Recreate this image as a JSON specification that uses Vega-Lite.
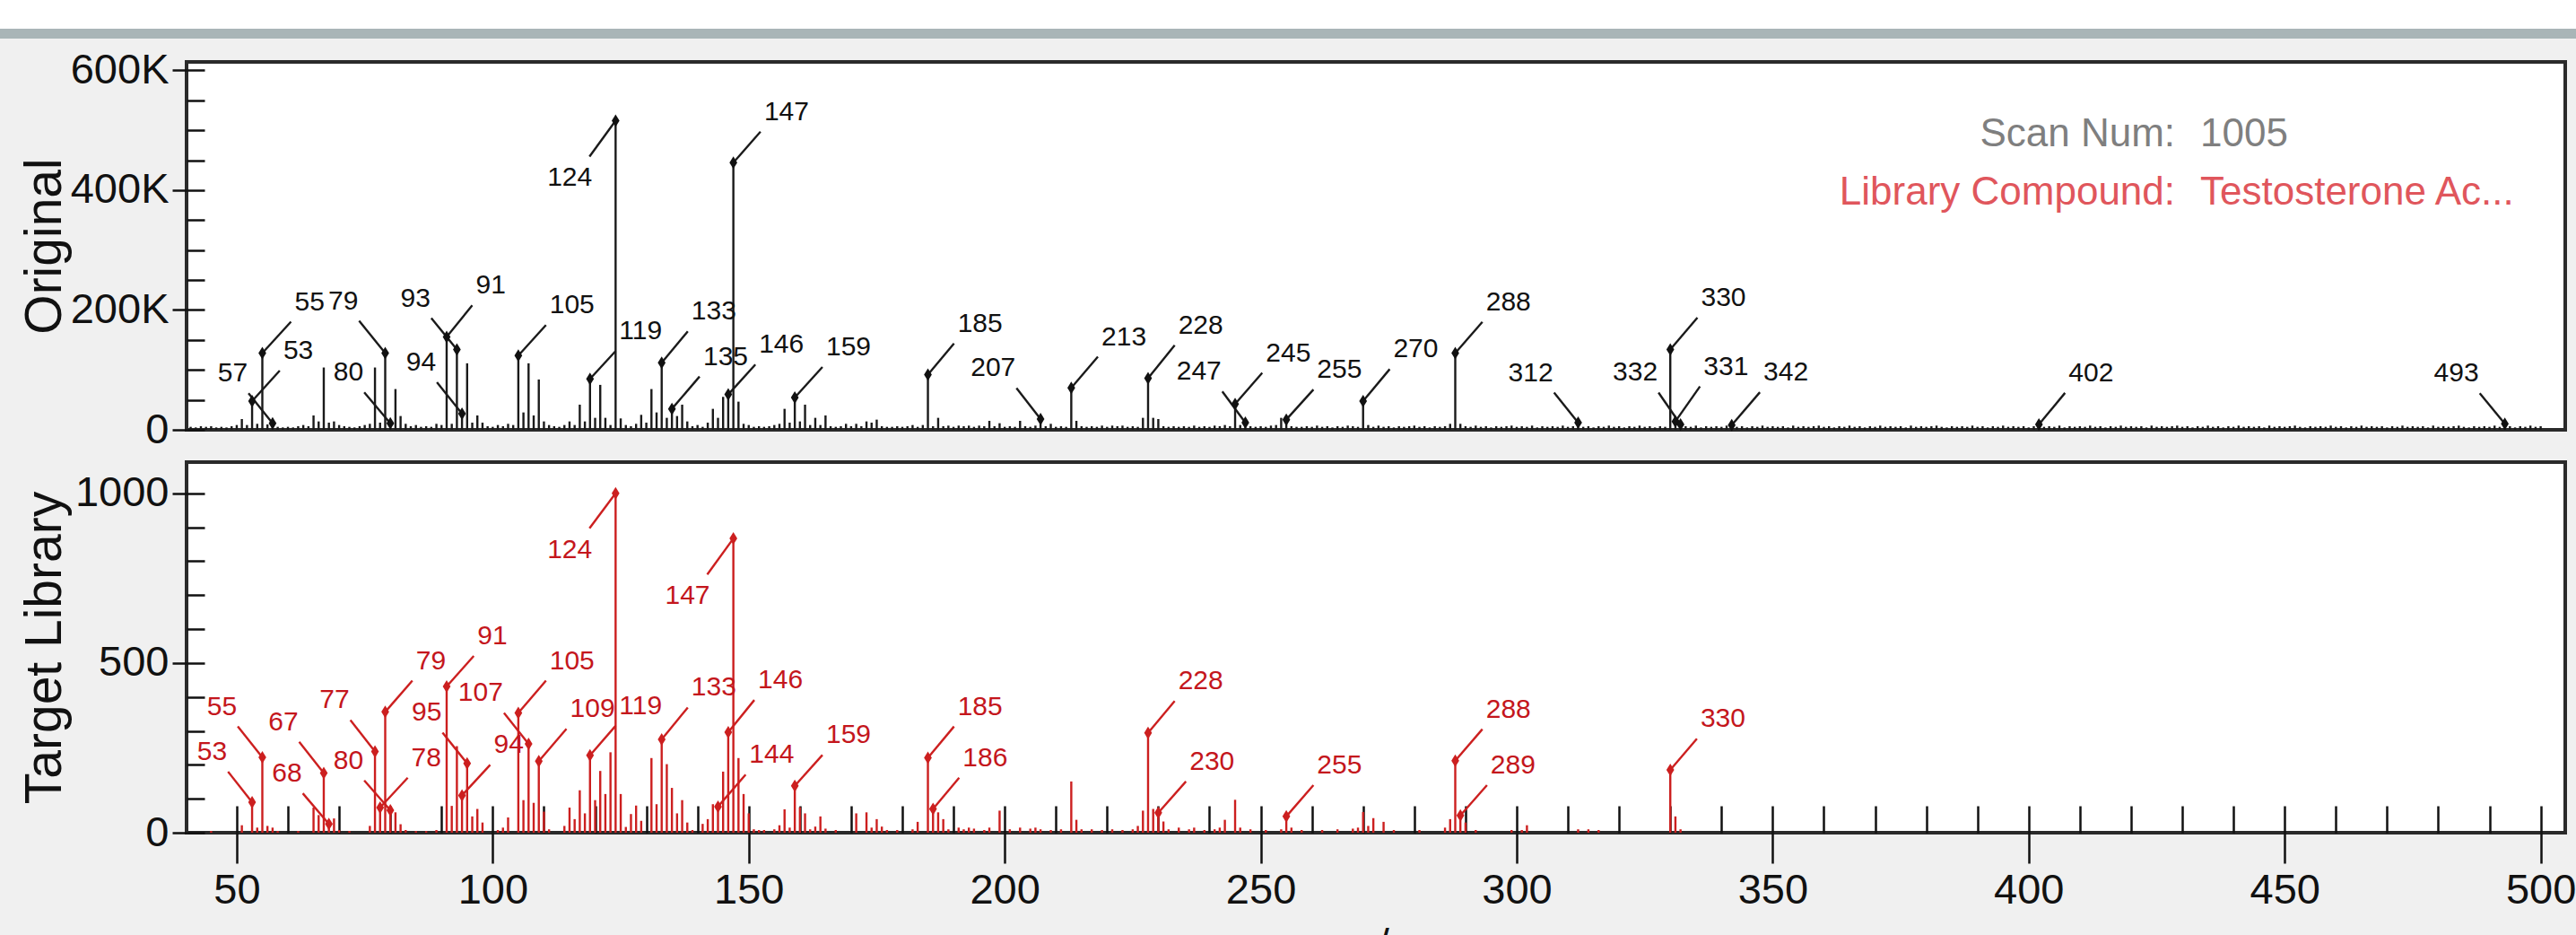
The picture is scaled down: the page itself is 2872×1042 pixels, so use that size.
{
"$schema": "https://vega.github.io/schema/vega-lite/v6.json",
"background": "#f0f0f0",
"padding": 0,
"config": {"view": {"stroke": null}, "axis": {"grid": false}},
"datasets": {
"top": [
{"mz":41,"I":5},{"mz":42,"I":4},{"mz":43,"I":6},{"mz":44,"I":5},{"mz":45,"I":6},{"mz":46,"I":4},{"mz":47,"I":5},{"mz":48,"I":4},{"mz":49,"I":6},{"mz":50,"I":8},
{"mz":51,"I":18},{"mz":52,"I":8},{"mz":53,"I":48},{"mz":54,"I":10},{"mz":55,"I":128},{"mz":56,"I":9},{"mz":57,"I":11},{"mz":58,"I":5},{"mz":59,"I":4},{"mz":60,"I":5},
{"mz":61,"I":4},{"mz":62,"I":6},{"mz":63,"I":8},{"mz":64,"I":6},{"mz":65,"I":24},{"mz":66,"I":14},{"mz":67,"I":104},{"mz":68,"I":12},{"mz":69,"I":14},{"mz":70,"I":8},
{"mz":71,"I":6},{"mz":72,"I":5},{"mz":73,"I":4},{"mz":74,"I":6},{"mz":75,"I":8},{"mz":76,"I":10},{"mz":77,"I":104},{"mz":78,"I":12},{"mz":79,"I":128},{"mz":80,"I":11},
{"mz":81,"I":68},{"mz":82,"I":23},{"mz":83,"I":10},{"mz":84,"I":6},{"mz":85,"I":8},{"mz":86,"I":5},{"mz":87,"I":6},{"mz":88,"I":5},{"mz":89,"I":10},{"mz":90,"I":8},
{"mz":91,"I":155},{"mz":92,"I":10},{"mz":93,"I":134},{"mz":94,"I":27},{"mz":95,"I":111},{"mz":96,"I":12},{"mz":97,"I":24},{"mz":98,"I":12},{"mz":99,"I":6},{"mz":100,"I":5},
{"mz":101,"I":8},{"mz":102,"I":6},{"mz":103,"I":10},{"mz":104,"I":8},{"mz":105,"I":124},{"mz":106,"I":29},{"mz":107,"I":111},{"mz":108,"I":24},{"mz":109,"I":84},{"mz":110,"I":14},
{"mz":111,"I":8},{"mz":112,"I":6},{"mz":113,"I":5},{"mz":114,"I":8},{"mz":115,"I":14},{"mz":116,"I":8},{"mz":117,"I":42},{"mz":118,"I":14},{"mz":119,"I":85},{"mz":120,"I":20},
{"mz":121,"I":75},{"mz":122,"I":20},{"mz":123,"I":8},{"mz":124,"I":516},{"mz":125,"I":19},{"mz":126,"I":8},{"mz":127,"I":6},{"mz":128,"I":10},{"mz":129,"I":25},{"mz":130,"I":12},
{"mz":131,"I":68},{"mz":132,"I":29},{"mz":133,"I":112},{"mz":134,"I":20},{"mz":135,"I":35},{"mz":136,"I":23},{"mz":137,"I":42},{"mz":138,"I":14},{"mz":139,"I":6},{"mz":140,"I":8},
{"mz":141,"I":5},{"mz":142,"I":12},{"mz":143,"I":35},{"mz":144,"I":20},{"mz":145,"I":55},{"mz":146,"I":59},{"mz":147,"I":446},{"mz":148,"I":47},{"mz":149,"I":10},{"mz":150,"I":8},
{"mz":151,"I":5},{"mz":152,"I":6},{"mz":153,"I":5},{"mz":154,"I":6},{"mz":155,"I":8},{"mz":156,"I":10},{"mz":157,"I":35},{"mz":158,"I":12},{"mz":159,"I":54},{"mz":160,"I":14},
{"mz":161,"I":42},{"mz":162,"I":8},{"mz":163,"I":20},{"mz":164,"I":8},{"mz":165,"I":24},{"mz":166,"I":6},{"mz":167,"I":5},{"mz":168,"I":6},{"mz":169,"I":10},{"mz":170,"I":6},
{"mz":171,"I":10},{"mz":172,"I":6},{"mz":173,"I":14},{"mz":174,"I":12},{"mz":175,"I":17},{"mz":176,"I":6},{"mz":177,"I":5},{"mz":178,"I":5},{"mz":179,"I":6},{"mz":180,"I":5},
{"mz":181,"I":6},{"mz":182,"I":8},{"mz":183,"I":5},{"mz":184,"I":8},{"mz":185,"I":92},{"mz":186,"I":6},{"mz":187,"I":20},{"mz":188,"I":6},{"mz":189,"I":7},{"mz":190,"I":5},
{"mz":191,"I":7},{"mz":192,"I":6},{"mz":193,"I":7},{"mz":194,"I":5},{"mz":195,"I":7},{"mz":196,"I":6},{"mz":197,"I":15},{"mz":198,"I":6},{"mz":199,"I":11},{"mz":200,"I":5},
{"mz":201,"I":6},{"mz":202,"I":5},{"mz":203,"I":15},{"mz":204,"I":6},{"mz":205,"I":5},{"mz":206,"I":7},{"mz":207,"I":18},{"mz":208,"I":6},{"mz":209,"I":10},{"mz":210,"I":5},
{"mz":211,"I":6},{"mz":212,"I":5},{"mz":213,"I":70},{"mz":214,"I":15},{"mz":215,"I":6},{"mz":216,"I":5},{"mz":217,"I":6},{"mz":218,"I":5},{"mz":219,"I":7},{"mz":220,"I":5},
{"mz":221,"I":7},{"mz":222,"I":6},{"mz":223,"I":7},{"mz":224,"I":5},{"mz":225,"I":6},{"mz":226,"I":5},{"mz":227,"I":20},{"mz":228,"I":86},{"mz":229,"I":20},{"mz":230,"I":18},
{"mz":231,"I":6},{"mz":232,"I":5},{"mz":233,"I":6},{"mz":234,"I":5},{"mz":235,"I":6},{"mz":236,"I":5},{"mz":237,"I":7},{"mz":238,"I":5},{"mz":239,"I":6},{"mz":240,"I":5},
{"mz":241,"I":7},{"mz":242,"I":6},{"mz":243,"I":8},{"mz":244,"I":6},{"mz":245,"I":43},{"mz":246,"I":8},{"mz":247,"I":12},{"mz":248,"I":6},{"mz":249,"I":5},{"mz":250,"I":6},
{"mz":251,"I":5},{"mz":252,"I":7},{"mz":253,"I":8},{"mz":254,"I":20},{"mz":255,"I":17},{"mz":256,"I":6},{"mz":257,"I":5},{"mz":258,"I":5},{"mz":259,"I":6},{"mz":260,"I":5},
{"mz":261,"I":7},{"mz":262,"I":5},{"mz":263,"I":6},{"mz":264,"I":4},{"mz":265,"I":6},{"mz":266,"I":5},{"mz":267,"I":7},{"mz":268,"I":6},{"mz":269,"I":5},{"mz":270,"I":48},
{"mz":271,"I":8},{"mz":272,"I":5},{"mz":273,"I":7},{"mz":274,"I":5},{"mz":275,"I":6},{"mz":276,"I":4},{"mz":277,"I":6},{"mz":278,"I":5},{"mz":279,"I":6},{"mz":280,"I":7},
{"mz":281,"I":5},{"mz":282,"I":6},{"mz":283,"I":4},{"mz":284,"I":6},{"mz":285,"I":5},{"mz":286,"I":6},{"mz":287,"I":10},{"mz":288,"I":128},{"mz":289,"I":10},{"mz":290,"I":6},
{"mz":291,"I":5},{"mz":292,"I":7},{"mz":293,"I":5},{"mz":294,"I":6},{"mz":295,"I":4},{"mz":296,"I":6},{"mz":297,"I":5},{"mz":298,"I":6},{"mz":299,"I":7},{"mz":300,"I":5},
{"mz":301,"I":6},{"mz":302,"I":5},{"mz":303,"I":7},{"mz":304,"I":4},{"mz":305,"I":6},{"mz":306,"I":5},{"mz":307,"I":6},{"mz":308,"I":5},{"mz":309,"I":7},{"mz":310,"I":5},
{"mz":311,"I":6},{"mz":312,"I":12},{"mz":313,"I":5},{"mz":314,"I":6},{"mz":315,"I":4},{"mz":316,"I":6},{"mz":317,"I":5},{"mz":318,"I":7},{"mz":319,"I":5},{"mz":320,"I":6},
{"mz":321,"I":4},{"mz":322,"I":6},{"mz":323,"I":5},{"mz":324,"I":7},{"mz":325,"I":5},{"mz":326,"I":6},{"mz":327,"I":4},{"mz":328,"I":6},{"mz":329,"I":5},{"mz":330,"I":134},
{"mz":331,"I":14},{"mz":332,"I":9},{"mz":333,"I":6},{"mz":334,"I":5},{"mz":335,"I":7},{"mz":336,"I":4},{"mz":337,"I":6},{"mz":338,"I":5},{"mz":339,"I":6},{"mz":340,"I":5},
{"mz":341,"I":7},{"mz":342,"I":8},{"mz":343,"I":5},{"mz":344,"I":6},{"mz":345,"I":4},{"mz":346,"I":6},{"mz":347,"I":5},{"mz":348,"I":7},{"mz":349,"I":5},{"mz":350,"I":6},
{"mz":351,"I":5},{"mz":352,"I":6},{"mz":353,"I":4},{"mz":354,"I":7},{"mz":355,"I":5},{"mz":356,"I":6},{"mz":357,"I":5},{"mz":358,"I":6},{"mz":359,"I":7},{"mz":360,"I":5},
{"mz":361,"I":6},{"mz":362,"I":4},{"mz":363,"I":6},{"mz":364,"I":5},{"mz":365,"I":7},{"mz":366,"I":5},{"mz":367,"I":6},{"mz":368,"I":4},{"mz":369,"I":6},{"mz":370,"I":5},
{"mz":371,"I":7},{"mz":372,"I":5},{"mz":373,"I":6},{"mz":374,"I":5},{"mz":375,"I":6},{"mz":376,"I":4},{"mz":377,"I":7},{"mz":378,"I":5},{"mz":379,"I":6},{"mz":380,"I":5},
{"mz":381,"I":6},{"mz":382,"I":7},{"mz":383,"I":5},{"mz":384,"I":4},{"mz":385,"I":6},{"mz":386,"I":5},{"mz":387,"I":6},{"mz":388,"I":5},{"mz":389,"I":7},{"mz":390,"I":5},
{"mz":391,"I":6},{"mz":392,"I":4},{"mz":393,"I":6},{"mz":394,"I":5},{"mz":395,"I":7},{"mz":396,"I":5},{"mz":397,"I":6},{"mz":398,"I":5},{"mz":399,"I":6},{"mz":400,"I":4},
{"mz":401,"I":6},{"mz":402,"I":9},{"mz":403,"I":5},{"mz":404,"I":6},{"mz":405,"I":5},{"mz":406,"I":7},{"mz":407,"I":4},{"mz":408,"I":6},{"mz":409,"I":5},{"mz":410,"I":6},
{"mz":411,"I":5},{"mz":412,"I":7},{"mz":413,"I":5},{"mz":414,"I":6},{"mz":415,"I":4},{"mz":416,"I":6},{"mz":417,"I":5},{"mz":418,"I":7},{"mz":419,"I":5},{"mz":420,"I":6},
{"mz":421,"I":5},{"mz":422,"I":6},{"mz":423,"I":4},{"mz":424,"I":7},{"mz":425,"I":5},{"mz":426,"I":6},{"mz":427,"I":5},{"mz":428,"I":6},{"mz":429,"I":7},{"mz":430,"I":5},
{"mz":431,"I":6},{"mz":432,"I":4},{"mz":433,"I":6},{"mz":434,"I":5},{"mz":435,"I":7},{"mz":436,"I":5},{"mz":437,"I":6},{"mz":438,"I":4},{"mz":439,"I":6},{"mz":440,"I":5},
{"mz":441,"I":7},{"mz":442,"I":5},{"mz":443,"I":6},{"mz":444,"I":5},{"mz":445,"I":6},{"mz":446,"I":4},{"mz":447,"I":7},{"mz":448,"I":5},{"mz":449,"I":6},{"mz":450,"I":5},
{"mz":451,"I":6},{"mz":452,"I":7},{"mz":453,"I":5},{"mz":454,"I":4},{"mz":455,"I":6},{"mz":456,"I":5},{"mz":457,"I":6},{"mz":458,"I":5},{"mz":459,"I":7},{"mz":460,"I":5},
{"mz":461,"I":6},{"mz":462,"I":4},{"mz":463,"I":6},{"mz":464,"I":5},{"mz":465,"I":7},{"mz":466,"I":5},{"mz":467,"I":6},{"mz":468,"I":5},{"mz":469,"I":6},{"mz":470,"I":4},
{"mz":471,"I":6},{"mz":472,"I":5},{"mz":473,"I":7},{"mz":474,"I":5},{"mz":475,"I":6},{"mz":476,"I":5},{"mz":477,"I":6},{"mz":478,"I":4},{"mz":479,"I":7},{"mz":480,"I":5},
{"mz":481,"I":6},{"mz":482,"I":5},{"mz":483,"I":6},{"mz":484,"I":7},{"mz":485,"I":5},{"mz":486,"I":4},{"mz":487,"I":6},{"mz":488,"I":5},{"mz":489,"I":6},{"mz":490,"I":5},
{"mz":491,"I":7},{"mz":492,"I":5},{"mz":493,"I":10},{"mz":494,"I":6},{"mz":495,"I":4},{"mz":496,"I":6},{"mz":497,"I":5},{"mz":498,"I":7},{"mz":499,"I":5},{"mz":500,"I":6}
],
"topLab": [
{"mz":53,"I":48,"lx":58.4,"ly":98.9},{"mz":55,"I":128,"lx":60.6,"ly":180.4},{"mz":57,"I":11,"lx":52.3,"ly":61},
{"mz":79,"I":128,"lx":73.9,"ly":181.9},{"mz":80,"I":11,"lx":74.9,"ly":62.5},{"mz":91,"I":155,"lx":96,"ly":207.9},
{"mz":93,"I":134,"lx":88,"ly":186.4},{"mz":94,"I":27,"lx":89.1,"ly":79.4},{"mz":105,"I":124,"lx":110.4,"ly":174.9},
{"mz":119,"I":85,"lx":124,"ly":131.4},{"mz":124,"I":516,"lx":118.9,"ly":456.1},{"mz":133,"I":112,"lx":138.1,"ly":164.4},
{"mz":135,"I":35,"lx":140.4,"ly":88.9},{"mz":146,"I":59,"lx":151.3,"ly":108.9},{"mz":147,"I":446,"lx":152.3,"ly":497.5},
{"mz":159,"I":54,"lx":164.4,"ly":104.9},{"mz":185,"I":92,"lx":190.1,"ly":144},{"mz":207,"I":18,"lx":202.3,"ly":69.8},
{"mz":213,"I":70,"lx":218.2,"ly":122},{"mz":228,"I":86,"lx":233.2,"ly":141},{"mz":245,"I":43,"lx":250.3,"ly":95},
{"mz":247,"I":12,"lx":242.5,"ly":64},{"mz":255,"I":17,"lx":260.3,"ly":67.2},{"mz":270,"I":48,"lx":275.2,"ly":101.3},
{"mz":288,"I":128,"lx":293.3,"ly":180},{"mz":312,"I":12,"lx":307.3,"ly":62},{"mz":330,"I":134,"lx":335.3,"ly":187.3},
{"mz":331,"I":14,"lx":335.8,"ly":72.4},{"mz":332,"I":9,"lx":327.7,"ly":62.2},{"mz":342,"I":8,"lx":347.5,"ly":62.7},
{"mz":402,"I":9,"lx":407.1,"ly":61.6},{"mz":493,"I":10,"lx":488.1,"ly":61.1}
],
"bot": [
{"mz":45,"I":5},{"mz":51,"I":22},{"mz":53,"I":90},{"mz":54,"I":15},{"mz":55,"I":222},{"mz":56,"I":20},{"mz":57,"I":15},{"mz":58,"I":5},{"mz":62,"I":5},{"mz":65,"I":74},
{"mz":66,"I":52},{"mz":67,"I":176},{"mz":68,"I":26},{"mz":69,"I":42},{"mz":70,"I":8},{"mz":72,"I":5},{"mz":76,"I":20},{"mz":77,"I":239},{"mz":78,"I":74},{"mz":79,"I":356},
{"mz":80,"I":66},{"mz":81,"I":60},{"mz":82,"I":25},{"mz":83,"I":8},{"mz":85,"I":5},{"mz":87,"I":5},{"mz":89,"I":8},{"mz":91,"I":431},{"mz":92,"I":79},{"mz":93,"I":255},
{"mz":94,"I":110},{"mz":95,"I":204},{"mz":96,"I":48},{"mz":97,"I":70},{"mz":98,"I":30},{"mz":101,"I":8},{"mz":102,"I":15},{"mz":103,"I":45},{"mz":105,"I":353},{"mz":106,"I":96},
{"mz":107,"I":262},{"mz":108,"I":88},{"mz":109,"I":211},{"mz":110,"I":62},{"mz":111,"I":10},{"mz":114,"I":20},{"mz":115,"I":74},{"mz":116,"I":40},{"mz":117,"I":125},{"mz":118,"I":57},
{"mz":119,"I":228},{"mz":120,"I":96},{"mz":121,"I":182},{"mz":122,"I":114},{"mz":123,"I":237},{"mz":124,"I":1000},{"mz":125,"I":114},{"mz":126,"I":17},{"mz":127,"I":55},{"mz":128,"I":80},
{"mz":129,"I":35},{"mz":131,"I":220},{"mz":132,"I":84},{"mz":133,"I":275},{"mz":134,"I":202},{"mz":135,"I":132},{"mz":136,"I":57},{"mz":137,"I":96},{"mz":138,"I":30},{"mz":139,"I":8},
{"mz":141,"I":26},{"mz":142,"I":40},{"mz":143,"I":84},{"mz":144,"I":77},{"mz":145,"I":180},{"mz":146,"I":296},{"mz":147,"I":867},{"mz":148,"I":220},{"mz":149,"I":114},{"mz":150,"I":57},
{"mz":151,"I":10},{"mz":152,"I":8},{"mz":153,"I":8},{"mz":155,"I":10},{"mz":156,"I":22},{"mz":157,"I":69},{"mz":158,"I":15},{"mz":159,"I":138},{"mz":160,"I":75},{"mz":161,"I":57},
{"mz":162,"I":10},{"mz":163,"I":18},{"mz":164,"I":48},{"mz":165,"I":12},{"mz":167,"I":8},{"mz":171,"I":57},{"mz":173,"I":60},{"mz":174,"I":15},{"mz":175,"I":40},{"mz":176,"I":18},
{"mz":177,"I":8},{"mz":179,"I":8},{"mz":182,"I":10},{"mz":183,"I":32},{"mz":185,"I":221},{"mz":186,"I":70},{"mz":187,"I":60},{"mz":188,"I":40},{"mz":189,"I":10},{"mz":191,"I":15},
{"mz":192,"I":10},{"mz":193,"I":15},{"mz":194,"I":12},{"mz":196,"I":8},{"mz":197,"I":15},{"mz":199,"I":65},{"mz":201,"I":10},{"mz":203,"I":15},{"mz":205,"I":12},{"mz":206,"I":15},
{"mz":207,"I":10},{"mz":209,"I":8},{"mz":211,"I":10},{"mz":213,"I":151},{"mz":214,"I":38},{"mz":215,"I":10},{"mz":217,"I":10},{"mz":219,"I":8},{"mz":221,"I":10},{"mz":223,"I":8},
{"mz":225,"I":10},{"mz":226,"I":20},{"mz":227,"I":65},{"mz":228,"I":294},{"mz":229,"I":70},{"mz":230,"I":59},{"mz":231,"I":33},{"mz":232,"I":10},{"mz":234,"I":15},{"mz":236,"I":10},
{"mz":237,"I":15},{"mz":239,"I":8},{"mz":241,"I":10},{"mz":242,"I":15},{"mz":243,"I":38},{"mz":245,"I":97},{"mz":246,"I":15},{"mz":248,"I":10},{"mz":251,"I":8},{"mz":254,"I":10},
{"mz":255,"I":48},{"mz":256,"I":15},{"mz":258,"I":8},{"mz":262,"I":8},{"mz":265,"I":10},{"mz":268,"I":12},{"mz":269,"I":15},{"mz":270,"I":61},{"mz":271,"I":20},{"mz":272,"I":43},
{"mz":274,"I":32},{"mz":276,"I":8},{"mz":281,"I":8},{"mz":286,"I":15},{"mz":287,"I":40},{"mz":288,"I":212},{"mz":289,"I":51},{"mz":290,"I":30},{"mz":292,"I":8},{"mz":299,"I":8},
{"mz":301,"I":8},{"mz":302,"I":22},{"mz":312,"I":10},{"mz":314,"I":10},{"mz":316,"I":8},{"mz":330,"I":185},{"mz":331,"I":48},{"mz":332,"I":10}
],
"botLab": [
{"mz":53,"I":90,"lx":48.3,"ly":180},{"mz":55,"I":222,"lx":50.2,"ly":313},{"mz":67,"I":176,"lx":62.2,"ly":268},
{"mz":68,"I":26,"lx":62.9,"ly":116},{"mz":77,"I":239,"lx":72.2,"ly":332},{"mz":78,"I":74,"lx":83.4,"ly":162},
{"mz":79,"I":356,"lx":84.3,"ly":448},{"mz":80,"I":66,"lx":74.9,"ly":154},{"mz":91,"I":431,"lx":96.3,"ly":521},
{"mz":94,"I":110,"lx":99.5,"ly":200},{"mz":95,"I":204,"lx":90.2,"ly":295},{"mz":105,"I":353,"lx":110.4,"ly":448},
{"mz":107,"I":262,"lx":102.2,"ly":353},{"mz":109,"I":211,"lx":114.4,"ly":306},{"mz":119,"I":228,"lx":124,"ly":315},
{"mz":124,"I":1000,"lx":118.9,"ly":897},{"mz":133,"I":275,"lx":138.1,"ly":369},{"mz":144,"I":77,"lx":149.4,"ly":171},
{"mz":146,"I":296,"lx":151.1,"ly":391},{"mz":147,"I":867,"lx":141.9,"ly":761},{"mz":159,"I":138,"lx":164.4,"ly":229},
{"mz":185,"I":221,"lx":190.1,"ly":313},{"mz":186,"I":70,"lx":191.1,"ly":162},{"mz":228,"I":294,"lx":233.2,"ly":388},
{"mz":230,"I":59,"lx":235.4,"ly":151},{"mz":255,"I":48,"lx":260.3,"ly":140},{"mz":288,"I":212,"lx":293.3,"ly":305},
{"mz":289,"I":51,"lx":294.2,"ly":140},{"mz":330,"I":185,"lx":335.2,"ly":277}
],
"info": [
{"key":"Scan Num:","val":"1005","I":472.5},
{"key":"Library Compound:","val":"Testosterone Ac...","I":375.2}
]
},
"concat": [
{
"vconcat": [
{"width": 2872, "height": 32, "data": {"values": [{}]}, "mark": {"type": "rect", "opacity": 0}, "encoding": {}, "view": {"fill": "#ffffff", "stroke": null}},
{"width": 2872, "height": 11, "data": {"values": [{}]}, "mark": {"type": "rect", "opacity": 0}, "encoding": {}, "view": {"fill": "#a9b5b7", "stroke": null}}
],
"spacing": 0
},
{
"hconcat": [
{"width": 1, "height": 1, "data": {"values": [{}]}, "mark": {"type": "rect", "opacity": 0}, "encoding": {}, "view": {"stroke": null}},
{
"vconcat": [
{
"width": 2652, "height": 410,
"view": {"fill": "#ffffff", "stroke": "#2a2a2a", "strokeWidth": 4},
"layer": [
{"data": {"name": "top"}, "mark": {"type": "rule", "color": "#1a1a1a", "strokeWidth": 2.4},
 "encoding": {
  "x": {"field": "mz", "type": "quantitative", "scale": {"domain": [40.2, 504.8], "nice": false, "zero": false}, "axis": null},
  "y": {"field": "I", "type": "quantitative", "scale": {"domain": [0, 614], "nice": false}, "axis": {
    "orient": "left", "values": [0, 200, 400, 600], "labelExpr": "datum.value == 0 ? '0' : datum.value + 'K'",
    "tickSize": 16, "tickWidth": 2.5, "tickColor": "#111111", "domain": false,
    "labelFont": "Liberation Sans, Arial, sans-serif", "labelFontSize": 47, "labelColor": "#111111", "labelPadding": 4,
    "title": ["", "Original"], "titleFont": "Liberation Sans, Arial, sans-serif", "titleFontSize": 57, "titleFontWeight": "normal", "titleColor": "#111111",
    "titleX": -158, "titleY": 205, "titleAngle": -90, "titleAlign": "center", "titleBaseline": "alphabetic", "titleLineHeight": 17}},
  "y2": {"datum": 0}
 }},
{"data": {"name": "topLab"}, "mark": {"type": "rule", "color": "#1a1a1a", "strokeWidth": 2.4},
 "encoding": {
  "x": {"field": "mz", "type": "quantitative", "scale": {"domain": [40.2, 504.8], "nice": false, "zero": false}, "axis": null},
  "y": {"field": "I", "type": "quantitative", "scale": {"domain": [0, 614], "nice": false}, "axis": {
    "orient": "left", "values": [0, 50, 100, 150, 200, 250, 300, 350, 400, 450, 500, 550, 600],
    "tickSize": -20, "tickWidth": 2.5, "tickColor": "#111111", "labels": false, "domain": false, "title": null}},
  "x2": {"field": "lx"}, "y2": {"field": "ly"}
 }},
{"data": {"name": "topLab"}, "mark": {"type": "point", "shape": "M0,-1L0.62,0L0,1L-0.62,0Z", "size": 196, "filled": true, "opacity": 1, "color": "#111111"},
 "encoding": {
  "x": {"field": "mz", "type": "quantitative", "scale": {"domain": [40.2, 504.8], "nice": false, "zero": false}, "axis": null},
  "y": {"field": "I", "type": "quantitative", "scale": {"domain": [0, 614], "nice": false}, "axis": null}
 }},
{"data": {"name": "topLab"}, "transform": [{"filter": "datum.lx > datum.mz && datum.ly > datum.I"}],
 "mark": {"type": "text", "align": "left", "baseline": "alphabetic", "dx": 4, "dy": -13, "font": "Liberation Sans, Arial, sans-serif", "fontSize": 30, "color": "#111111"},
 "encoding": {
  "x": {"field": "lx", "type": "quantitative", "scale": {"domain": [40.2, 504.8], "nice": false, "zero": false}, "axis": null},
  "y": {"field": "ly", "type": "quantitative", "scale": {"domain": [0, 614], "nice": false}, "axis": null},
  "text": {"field": "mz", "type": "quantitative", "format": "d"}
 }},
{"data": {"name": "topLab"}, "transform": [{"filter": "datum.lx < datum.mz && datum.ly > datum.I"}],
 "mark": {"type": "text", "align": "right", "baseline": "alphabetic", "dx": -1, "dy": -13, "font": "Liberation Sans, Arial, sans-serif", "fontSize": 30, "color": "#111111"},
 "encoding": {
  "x": {"field": "lx", "type": "quantitative", "scale": {"domain": [40.2, 504.8], "nice": false, "zero": false}, "axis": null},
  "y": {"field": "ly", "type": "quantitative", "scale": {"domain": [0, 614], "nice": false}, "axis": null},
  "text": {"field": "mz", "type": "quantitative", "format": "d"}
 }},
{"data": {"name": "topLab"}, "transform": [{"filter": "datum.ly < datum.I"}],
 "mark": {"type": "text", "align": "right", "baseline": "alphabetic", "dx": 3, "dy": 33, "font": "Liberation Sans, Arial, sans-serif", "fontSize": 30, "color": "#111111"},
 "encoding": {
  "x": {"field": "lx", "type": "quantitative", "scale": {"domain": [40.2, 504.8], "nice": false, "zero": false}, "axis": null},
  "y": {"field": "ly", "type": "quantitative", "scale": {"domain": [0, 614], "nice": false}, "axis": null},
  "text": {"field": "mz", "type": "quantitative", "format": "d"}
 }},
{"data": {"name": "info"},
 "mark": {"type": "text", "align": "right", "baseline": "alphabetic", "font": "Liberation Sans, Arial, sans-serif", "fontSize": 44},
 "encoding": {
  "x": {"datum": 428.6, "type": "quantitative", "scale": {"domain": [40.2, 504.8], "nice": false, "zero": false}, "axis": null},
  "y": {"field": "I", "type": "quantitative", "scale": {"domain": [0, 614], "nice": false}, "axis": null},
  "text": {"field": "key"},
  "color": {"field": "key", "type": "nominal", "scale": {"domain": ["Scan Num:", "Library Compound:"], "range": ["#7f7f7f", "#e0565c"]}, "legend": null}
 }},
{"data": {"name": "info"},
 "mark": {"type": "text", "align": "left", "baseline": "alphabetic", "font": "Liberation Sans, Arial, sans-serif", "fontSize": 44},
 "encoding": {
  "x": {"datum": 433.5, "type": "quantitative", "scale": {"domain": [40.2, 504.8], "nice": false, "zero": false}, "axis": null},
  "y": {"field": "I", "type": "quantitative", "scale": {"domain": [0, 614], "nice": false}, "axis": null},
  "text": {"field": "val"},
  "color": {"field": "key", "type": "nominal", "scale": {"domain": ["Scan Num:", "Library Compound:"], "range": ["#7f7f7f", "#e0565c"]}, "legend": null}
 }}
],
"resolve": {"axis": {"y": "independent"}}
},
{
"width": 2652, "height": 413,
"view": {"fill": "#ffffff", "stroke": "#2a2a2a", "strokeWidth": 4},
"layer": [
{"data": {"name": "bot"}, "mark": {"type": "rule", "color": "#cc1f1f", "strokeWidth": 2.4},
 "encoding": {
  "x": {"field": "mz", "type": "quantitative", "scale": {"domain": [40.2, 504.8], "nice": false, "zero": false}, "axis": {
    "orient": "bottom", "values": [50, 100, 150, 200, 250, 300, 350, 400, 450, 500], "format": "d",
    "tickSize": 34, "tickWidth": 2.5, "tickColor": "#111111", "domain": false, "labelOverlap": false, "labelFlush": false,
    "labelFont": "Liberation Sans, Arial, sans-serif", "labelFontSize": 47, "labelColor": "#111111", "labelPadding": 7,
    "title": "m/z", "titleFont": "Liberation Sans, Arial, sans-serif", "titleFontSize": 47, "titleFontWeight": "normal", "titleColor": "#111111", "titlePadding": 15}},
  "y": {"field": "I", "type": "quantitative", "scale": {"domain": [0, 1092], "nice": false}, "axis": {
    "orient": "left", "values": [0, 500, 1000], "format": "d",
    "tickSize": 16, "tickWidth": 2.5, "tickColor": "#111111", "domain": false,
    "labelFont": "Liberation Sans, Arial, sans-serif", "labelFontSize": 47, "labelColor": "#111111", "labelPadding": 4,
    "title": ["", "Target Library"], "titleFont": "Liberation Sans, Arial, sans-serif", "titleFontSize": 57, "titleFontWeight": "normal", "titleColor": "#111111",
    "titleX": -158, "titleY": 206.5, "titleAngle": -90, "titleAlign": "center", "titleBaseline": "alphabetic", "titleLineHeight": 17}},
  "y2": {"datum": 0}
 }},
{"data": {"name": "botLab"}, "mark": {"type": "rule", "color": "#cc1f1f", "strokeWidth": 2.4},
 "encoding": {
  "x": {"field": "mz", "type": "quantitative", "scale": {"domain": [40.2, 504.8], "nice": false, "zero": false}, "axis": {
    "orient": "bottom", "values": [50,60,70,80,90,100,110,120,130,140,150,160,170,180,190,200,210,220,230,240,250,260,270,280,290,300,310,320,330,340,350,360,370,380,390,400,410,420,430,440,450,460,470,480,490,500],
    "tickSize": -30, "tickWidth": 2.5, "tickColor": "#111111", "labels": false, "domain": false, "title": null}},
  "y": {"field": "I", "type": "quantitative", "scale": {"domain": [0, 1092], "nice": false}, "axis": {
    "orient": "left", "values": [0, 100, 200, 300, 400, 500, 600, 700, 800, 900, 1000],
    "tickSize": -20, "tickWidth": 2.5, "tickColor": "#111111", "labels": false, "domain": false, "title": null}},
  "x2": {"field": "lx"}, "y2": {"field": "ly"}
 }},
{"data": {"name": "botLab"}, "mark": {"type": "point", "shape": "M0,-1L0.62,0L0,1L-0.62,0Z", "size": 196, "filled": true, "opacity": 1, "color": "#cc1f1f"},
 "encoding": {
  "x": {"field": "mz", "type": "quantitative", "scale": {"domain": [40.2, 504.8], "nice": false, "zero": false}, "axis": null},
  "y": {"field": "I", "type": "quantitative", "scale": {"domain": [0, 1092], "nice": false}, "axis": null}
 }},
{"data": {"name": "botLab"}, "transform": [{"filter": "datum.lx > datum.mz && datum.ly > datum.I"}],
 "mark": {"type": "text", "align": "left", "baseline": "alphabetic", "dx": 4, "dy": -13, "font": "Liberation Sans, Arial, sans-serif", "fontSize": 30, "color": "#c4161c"},
 "encoding": {
  "x": {"field": "lx", "type": "quantitative", "scale": {"domain": [40.2, 504.8], "nice": false, "zero": false}, "axis": null},
  "y": {"field": "ly", "type": "quantitative", "scale": {"domain": [0, 1092], "nice": false}, "axis": null},
  "text": {"field": "mz", "type": "quantitative", "format": "d"}
 }},
{"data": {"name": "botLab"}, "transform": [{"filter": "datum.lx < datum.mz && datum.ly > datum.I"}],
 "mark": {"type": "text", "align": "right", "baseline": "alphabetic", "dx": -1, "dy": -13, "font": "Liberation Sans, Arial, sans-serif", "fontSize": 30, "color": "#c4161c"},
 "encoding": {
  "x": {"field": "lx", "type": "quantitative", "scale": {"domain": [40.2, 504.8], "nice": false, "zero": false}, "axis": null},
  "y": {"field": "ly", "type": "quantitative", "scale": {"domain": [0, 1092], "nice": false}, "axis": null},
  "text": {"field": "mz", "type": "quantitative", "format": "d"}
 }},
{"data": {"name": "botLab"}, "transform": [{"filter": "datum.ly < datum.I"}],
 "mark": {"type": "text", "align": "right", "baseline": "alphabetic", "dx": 3, "dy": 33, "font": "Liberation Sans, Arial, sans-serif", "fontSize": 30, "color": "#c4161c"},
 "encoding": {
  "x": {"field": "lx", "type": "quantitative", "scale": {"domain": [40.2, 504.8], "nice": false, "zero": false}, "axis": null},
  "y": {"field": "ly", "type": "quantitative", "scale": {"domain": [0, 1092], "nice": false}, "axis": null},
  "text": {"field": "mz", "type": "quantitative", "format": "d"}
 }}
],
"resolve": {"axis": {"x": "independent", "y": "independent"}}
}
],
"spacing": 36,
"bounds": "flush"
}
],
"spacing": 0
}
],
"columns": 1,
"spacing": 9
}
